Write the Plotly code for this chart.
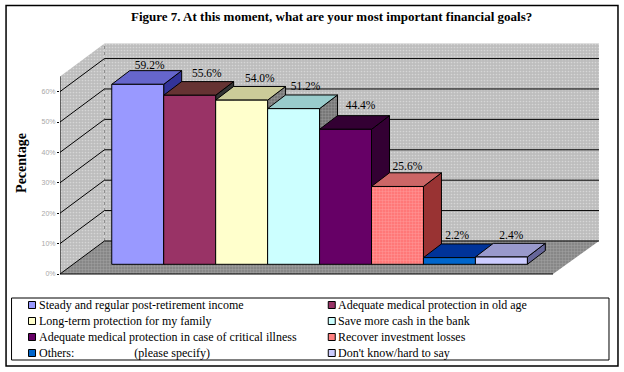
import plotly.graph_objects as go

CATEGORIES = ["Steady and regular post-retirement income", "Adequate medical protection in old age",
              "Long-term protection for my family", "Save more cash in the bank",
              "Adequate medical protection in case of critical illness", "Recover investment losses",
              "Others:                    (please specify)", "Don't know/hard to say"]
VALUES = [59.2, 55.6, 54.0, 51.2, 44.4, 25.6, 2.2, 2.4]
LABELS = ["59.2%", "55.6%", "54.0%", "51.2%", "44.4%", "25.6%", "2.2%", "2.4%"]
TICKS = [0, 10, 20, 30, 40, 50, 60]
TICK_LABELS = ["0%", "10%", "20%", "30%", "40%", "50%", "60%"]

FRONT = ["#9999FF", "#993366", "#FFFFCC", "#CCFFFF", "#660066", "#FF8080", "#0066CC", "#CCCCFF"]
TOP = ["#6666CC", "#663333", "#CCCC99", "#99CCCC", "#330033", "#CC6666", "#003399", "#9999CC"]
SIDE = ["#333399", "#333333", "#808080", "#808080", "#330033", "#993333", "#003399", "#666699"]
LABEL_DX = [0.23, 0.33, 0.35, 0.23, 0.29, 0.19, 0.15, 0.19]
LABEL_DY = [6.1, 6.9, 6.9, 7.1, 7.6, 6.4, 7.1, 6.9]

W, H = 624, 372
ML, MR, MT, MB = 59.5, 25, 43, 89
PX_X, PX_Y = 52.0, 3.04
X_L = -0.5 + (ML - 111.3) / PX_X
X_R = -0.5 + (W - MR - 111.3) / PX_X
Y_T = (264.3 - MT) / PX_Y
Y_B = (264.3 - (H - MB)) / PX_Y
FLOOR_Y = -3.19
FLOOR_X_R = 7.994
FLOOR_DX, FLOOR_DY = 0.856, 10.86
BAR_DX, BAR_DY = 0.346, 4.5
WALL_H = 65.0

def px(x):
    return (x - ML) / (W - ML - MR)

def py(y):
    return 1 - (y - MT) / (H - MT - MB)

def poly(xs, ys, color, line="black", width=1, pat=None, axes=("x", "y")):
    d = dict(x=xs + xs[:1], y=ys + ys[:1], mode="lines", fill="toself", fillcolor=color,
             line=dict(color=line, width=width), hoverinfo="skip", showlegend=False,
             xaxis=axes[0], yaxis=axes[1])
    if pat:
        d["fillpattern"] = pat
    return go.Scatter(**d)

wall_pat = dict(shape=".", bgcolor="#BDBDBD", fgcolor="#F0F0F0", size=3, solidity=0.25)
floor_pat = dict(shape=".", bgcolor="#808080", fgcolor="#B8B8B8", size=3, solidity=0.5)
side_pat = dict(shape=".", bgcolor="#707070", fgcolor="#B0B0B0", size=3, solidity=0.5)

bx = X_L + FLOOR_DX
by = FLOOR_Y + FLOOR_DY
traces = [
    poly([bx, X_R, X_R, bx], [by, by, by + WALL_H, by + WALL_H], "#C0C0C0", line="rgba(0,0,0,0)", pat=wall_pat),
    poly([X_L, bx, bx, X_L], [FLOOR_Y, by, by + WALL_H, FLOOR_Y + WALL_H], "#C0C0C0", line="rgba(0,0,0,0)", pat=wall_pat),
    poly([X_L, FLOOR_X_R, X_R, bx], [FLOOR_Y, FLOOR_Y, by, by], "#808080", line="rgba(0,0,0,0)", pat=floor_pat),
]
# edge between the two walls
traces.append(go.Scatter(x=[bx, bx], y=[by, by + WALL_H], mode="lines", hoverinfo="skip", showlegend=False,
                         line=dict(color="#8C8C8C", width=1, dash="dot")))
# gridlines
for t in TICKS:
    traces.append(go.Scatter(x=[X_L, bx, X_R], y=[FLOOR_Y + t, by + t, by + t], mode="lines", hoverinfo="skip",
                             showlegend=False, line=dict(color="black", width=1)))
# front edges of walls and floor
traces.append(go.Scatter(x=[X_L, X_L, FLOOR_X_R], y=[FLOOR_Y + WALL_H, FLOOR_Y, FLOOR_Y], mode="lines",
                         hoverinfo="skip", showlegend=False, line=dict(color="black", width=1)))
# top and side faces, drawn left to right
for i, v in enumerate(VALUES):
    L, R = i - 0.5, i + 0.5
    traces.append(poly([R, R + BAR_DX, R + BAR_DX, R], [0, BAR_DY, v + BAR_DY, v], SIDE[i],
                       pat=side_pat if SIDE[i] == "#808080" else None))
    traces.append(poly([L, L + BAR_DX, R + BAR_DX, R], [v, v + BAR_DY, v + BAR_DY, v], TOP[i]))
# front faces
for i, v in enumerate(VALUES):
    marker = dict(color=FRONT[i], line=dict(color="black", width=1))
    if i == 5:
        marker["pattern"] = dict(shape=".", bgcolor="#FF7070", fgcolor="#FFB0B0", size=3, solidity=0.5)
    traces.append(go.Bar(x=[i], y=[v], width=1, name=CATEGORIES[i], marker=marker, xaxis="x2", yaxis="y2",
                         showlegend=False))
traces.append(go.Scatter(x=[i + d for i, d in enumerate(LABEL_DX)], y=[v + d for v, d in zip(VALUES, LABEL_DY)],
                         text=LABELS, mode="text", textposition="middle center", xaxis="x2", yaxis="y2",
                         textfont=dict(family="Liberation Serif", size=11.5, color="black"),
                         hoverinfo="skip", showlegend=False))

fig = go.Figure(traces)
shapes = [
    dict(type="rect", xref="paper", yref="paper", x0=px(5.5), x1=px(618), y0=py(5.5), y1=py(366),
         line=dict(color="black", width=1.5), layer="below"),
    dict(type="rect", xref="paper", yref="paper", x0=px(11), x1=px(609), y0=py(298), y1=py(360),
         line=dict(color="black", width=1), layer="above"),
]
annotations = [
    dict(text="<b>Figure 7. At this moment, what are your most important financial goals?</b>", x=px(331), y=py(17),
         xref="paper", yref="paper", yanchor="middle", showarrow=False,
         font=dict(family="Liberation Serif", size=13, color="black")),
]
for i, name in enumerate(CATEGORIES):
    col, row = i % 2, i // 2
    sx = [28, 328][col]
    sy = 305 + 16 * row
    shapes.append(dict(type="rect", xref="paper", yref="paper", x0=px(sx), x1=px(sx + 7), y0=py(sy - 3.5),
                       y1=py(sy + 3.5), fillcolor=FRONT[i], line=dict(color="black", width=1)))
    annotations.append(dict(text=name.replace("  ", "&nbsp;&nbsp;"), x=px(sx + 8), y=py(sy), xref="paper", yref="paper",
                            xanchor="left", yanchor="middle", showarrow=False, align="left",
                            font=dict(family="Liberation Serif", size=12, color="black")))

fig.update_layout(
    width=W, height=H, margin=dict(l=ML, r=MR, t=MT, b=MB, autoexpand=False),
    paper_bgcolor="white", plot_bgcolor="rgba(0,0,0,0)", barmode="overlay", showlegend=False,
    shapes=shapes, annotations=annotations,
    xaxis=dict(range=[X_L, X_R], visible=False),
    xaxis2=dict(range=[X_L, X_R], visible=False, overlaying="x"),
    yaxis2=dict(range=[Y_B, Y_T], visible=False, overlaying="y"),
    yaxis=dict(range=[Y_B, Y_T], tickmode="array", tickvals=[FLOOR_Y + t for t in TICKS], ticktext=TICK_LABELS,
               ticks="outside", ticklen=2, tickcolor="black", showgrid=False, zeroline=False, showline=False,
               tickfont=dict(family="Liberation Sans", size=7, color="#A8A8A8"),
               title=dict(text="<b>Pecentage</b>", standoff=11, font=dict(family="Liberation Serif", size=14, color="black"))),
)
fig.write_html("out.html", config={"displayModeBar": False},
               post_script="document.body.style.margin='0';document.body.style.overflow='hidden';")
